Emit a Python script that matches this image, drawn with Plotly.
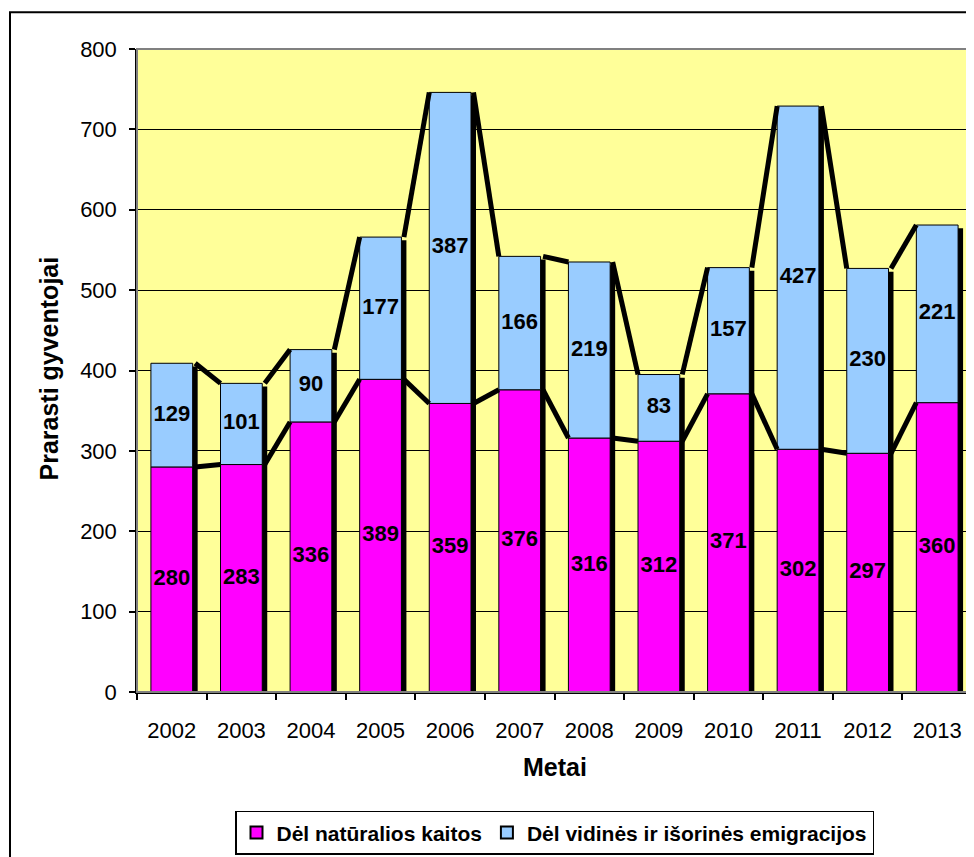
import plotly.graph_objects as go

years = ["2002", "2003", "2004", "2005", "2006", "2007", "2008", "2009", "2010", "2011", "2012", "2013"]
naturali = [280, 283, 336, 389, 359, 376, 316, 312, 371, 302, 297, 360]
emigracija = [129, 101, 90, 177, 387, 166, 219, 83, 157, 427, 230, 221]

name_nat = "Dėl natūralios kaitos"
name_emig = "Dėl vidinės ir išorinės emigracijos"

PINK = "#FF00FF"
BLUE = "#99CCFF"
FONT = "Liberation Sans, Arial, sans-serif"

xs = list(range(len(years)))
totals = [a + b for a, b in zip(naturali, emigracija)]

BW = 0.6
SH_DX = 5 / 69.6   # shadow offset in category units
SH_DY = 4          # shadow drop in value units

fig = go.Figure()

# shadow
fig.add_trace(go.Bar(
    x=xs, y=[t - SH_DY for t in totals], base=0, width=BW, offset=-BW / 2 + SH_DX,
    marker=dict(color="black", line=dict(width=0)), showlegend=False, hoverinfo="skip"))

fig.add_trace(go.Bar(
    x=xs, y=naturali, base=0, width=BW, offset=-BW / 2, name=name_nat,
    marker=dict(color=PINK, line=dict(color="black", width=1))))
fig.add_trace(go.Bar(
    x=xs, y=emigracija, base=naturali, width=BW, offset=-BW / 2, name=name_emig,
    marker=dict(color=BLUE, line=dict(color="black", width=1))))

# series lines
def series_line(vals):
    lx, ly = [], []
    for i in range(len(vals) - 1):
        lx += [i + BW / 2 + SH_DX / 2, i + 1 - BW / 2, None]
        ly += [vals[i], vals[i + 1], None]
    return lx, ly

for vals in (naturali, totals):
    lx, ly = series_line(vals)
    fig.add_trace(go.Scatter(x=lx, y=ly, mode="lines", line=dict(color="black", width=5),
                             showlegend=False, hoverinfo="skip"))

# data labels
fig.add_trace(go.Scatter(
    x=xs, y=[v / 2 for v in naturali], mode="text", text=[str(v) for v in naturali],
    textfont=dict(family=FONT, size=22, color="black", weight="bold"),
    showlegend=False, hoverinfo="skip"))
fig.add_trace(go.Scatter(
    x=xs, y=[a + b / 2 for a, b in zip(naturali, emigracija)], mode="text",
    text=[str(v) for v in emigracija],
    textfont=dict(family=FONT, size=22, color="black", weight="bold"),
    showlegend=False, hoverinfo="skip"))

fig.update_layout(
    width=966, height=849,
    margin=dict(l=129, r=2, t=41, b=160),
    paper_bgcolor="white", plot_bgcolor="#FFFF99",
    barmode="overlay",
    font=dict(family=FONT, size=22, color="black"),
    showlegend=True,
    legend=dict(orientation="h", x=0.5, xanchor="center", y=-0.185, yanchor="top",
                bordercolor="black", borderwidth=1.5, bgcolor="white",
                font=dict(family=FONT, size=21, color="black", weight="bold"),
                traceorder="normal", itemsizing="constant"),
    xaxis=dict(range=[-0.5, 11.5], tickmode="array", tickvals=xs, ticktext=years,
               ticks="outside", ticklen=18, tickcolor="rgba(0,0,0,0)",
               showgrid=False, zeroline=False, showline=True, linecolor="black", linewidth=1.5,
               tickfont=dict(family=FONT, size=22, color="black"),
               minor=dict(tick0=-0.5, dtick=1, ticks="outside", ticklen=6, tickcolor="black",
                          tickwidth=1.5, showgrid=False)),
    yaxis=dict(range=[0, 800], dtick=100, ticks="outside", ticklen=6, tickcolor="black",
               tickwidth=1.5, showgrid=True, gridcolor="black", gridwidth=1,
               zeroline=False, showline=True, linecolor="black", linewidth=1.5,
               ticklabelstandoff=8,
               tickfont=dict(family=FONT, size=22, color="black")),
    shapes=[
        dict(type="rect", xref="paper", yref="paper", x0=0, x1=1, y0=0, y1=1,
             line=dict(color="#808080", width=2), layer="above"),
        dict(type="rect", xref="paper", yref="paper", x0=-0.1521, x1=1.1, y0=-0.5, y1=1.0571,
             line=dict(color="black", width=2)),
    ],
    annotations=[
        dict(text="<b>Prarasti gyventojai</b>", xref="paper", yref="paper",
             x=(49 - 137) / 835, y=(697 - 371) / 648, xanchor="center", yanchor="middle",
             textangle=-90, showarrow=False, font=dict(family=FONT, size=25, color="black")),
        dict(text="<b>Metai</b>", xref="paper", yref="paper",
             x=0.5, y=(697 - 773) / 648, xanchor="center", yanchor="middle",
             showarrow=False, font=dict(family=FONT, size=25, color="black")),
    ],
)

fig.write_html("out.html")
